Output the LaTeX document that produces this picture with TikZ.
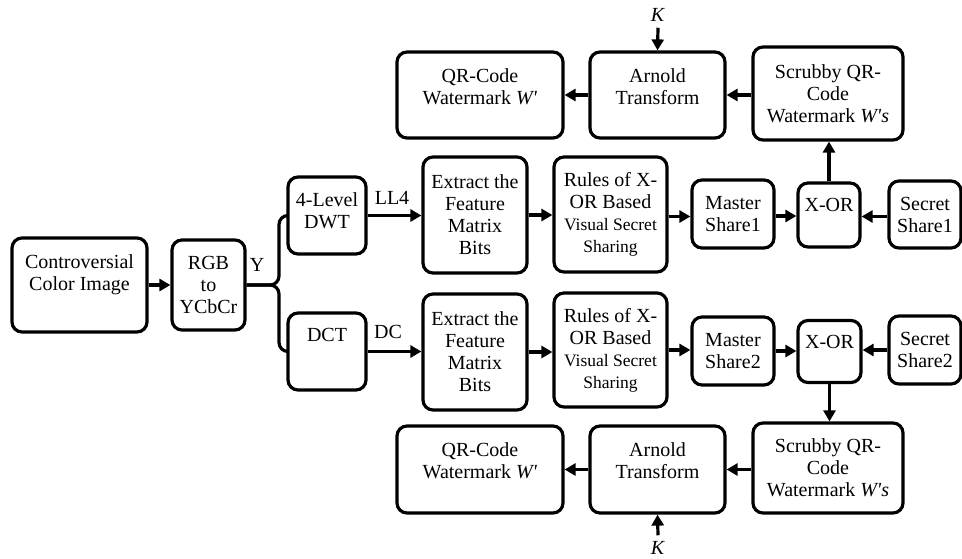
\documentclass[tikz,border=0pt]{standalone}
\usepackage{fontspec}
\setmainfont{Liberation Serif}
\usetikzlibrary{arrows.meta}
\newcommand{\fs}{\fontsize{20pt}{22pt}\selectfont}
\newcommand{\fss}{\fontsize{17.5pt}{19.5pt}\selectfont}
\newcommand{\lift}[1]{\\[#1]\mbox{}}
\newcommand{\pr}{\textquotesingle}
\begin{document}
\begin{tikzpicture}[x=1pt,y=1pt,
  box/.style={draw, line width=3.2pt, rounded corners=10pt, align=center, inner sep=0pt, font=\fs},
  conn/.style={line width=3.2pt},
  arr/.style={line width=3.2pt, -{Triangle[length=11pt,width=12pt]}},
  lbl/.style={inner sep=0pt, font=\fs}]
\useasboundingbox (0,0) rectangle (962,-558);

% left part
\node[box, minimum width=135pt, minimum height=94pt] (ctrl) at (79.5,-285) {Controversial\\Color Image\lift{2pt}};
\node[box, minimum width=73pt, minimum height=90pt] (rgb) at (208.5,-285) {RGB\\to\\YCbCr};
\node[box, minimum width=78pt, minimum height=77pt] (dwt) at (327,-215.5) {4-Level\\DWT\lift{-13pt}};
\node[box, minimum width=78pt, minimum height=77pt] (dct) at (327,-351.5) {DCT\lift{11pt}};
\node[lbl] (ylab) at (257,-265) {Y};
\node[lbl] (ll4) at (392,-198) {LL4};
\node[lbl] (dc) at (388,-332) {DC};

% upper branch
\node[box, minimum width=104pt, minimum height=116pt] (ext1) at (475,-215) {Extract the\\Feature\\Matrix\\Bits};
\node[box, minimum width=113pt, minimum height=115pt] (rules1) at (610.5,-214.5) {Rules of X-\\OR Based\\{\fss Visual Secret}\\{\fss Sharing}};
\node[box, minimum width=82pt, minimum height=68pt] (master1) at (733,-214) {Master\\Share1};
\node[box, minimum width=62pt, minimum height=64pt] (xor1) at (829,-215) {X-OR\lift{-2pt}};
\node[box, minimum width=72pt, minimum height=67pt] (secret1) at (925,-214.5) {Secret\\Share1};
\node[box, minimum width=166pt, minimum height=86pt] (qr1) at (480,-95) {QR-Code\\Watermark \textit{W\pr}\lift{-6pt}};
\node[box, minimum width=135pt, minimum height=86pt] (arnold1) at (657.5,-95) {Arnold\\Transform\lift{-6pt}};
\node[box, minimum width=150pt, minimum height=93pt] (scrub1) at (828,-93.5) {Scrubby QR-\\Code\\Watermark \textit{W\pr s}};
\node[lbl] (k1) at (658,-15) {\textit{K}};

% lower branch
\node[box, minimum width=104pt, minimum height=116pt] (ext2) at (475,-352) {Extract the\\Feature\\Matrix\\Bits};
\node[box, minimum width=113pt, minimum height=114pt] (rules2) at (610.5,-350) {Rules of X-\\OR Based\\{\fss Visual Secret}\\{\fss Sharing}};
\node[box, minimum width=82pt, minimum height=68pt] (master2) at (733,-351) {Master\\Share2};
\node[box, minimum width=63pt, minimum height=62pt] (xor2) at (829.5,-351.5) {X-OR\lift{-2pt}};
\node[box, minimum width=72pt, minimum height=68pt] (secret2) at (925,-350) {Secret\\Share2};
\node[box, minimum width=166pt, minimum height=87pt] (qr2) at (480,-469.5) {QR-Code\\Watermark \textit{W\pr}\lift{-4pt}};
\node[box, minimum width=135pt, minimum height=87pt] (arnold2) at (657.5,-469.5) {Arnold\\Transform\lift{-4pt}};
\node[box, minimum width=150pt, minimum height=90pt] (scrub2) at (828,-468) {Scrubby QR-\\Code\\Watermark \textit{W\pr s}};
\node[lbl] (k2) at (658,-548) {\textit{K}};

% connectors
\draw[arr] (ctrl.east) -- (rgb.west);
\coordinate (br) at (279,-285);
\draw[conn, rounded corners=9pt] (rgb.east) -- (br) |- (dwt.west);
\draw[conn, rounded corners=9pt] (rgb.east) -- (br) |- (dct.west);
\draw[arr] (dwt.east) -- (dwt.east -| ext1.west);
\draw[arr] (dct.east) -- (dct.east -| ext2.west);

\draw[arr] (ext1.east) -- (ext1.east -| rules1.west);
\draw[arr] ([yshift=-2pt]rules1.east) -- ([yshift=-2pt]rules1.east -| master1.west);
\draw[arr] ([yshift=-2pt]master1.east) -- ([yshift=-2pt]master1.east -| xor1.west);
\draw[arr] ([yshift=-2pt]secret1.west) -- ([yshift=-2pt]secret1.west -| xor1.east);
\draw[arr] (xor1.north) -- (xor1.north |- scrub1.south);
\draw[arr] (scrub1.west |- arnold1.east) -- (arnold1.east);
\draw[arr] (arnold1.west) -- (qr1.east);
\draw[arr] ([yshift=-6pt]k1.south) -- (arnold1.north);

\draw[arr] (ext2.east) -- (ext2.east -| rules2.west);
\draw[arr] (rules2.east) -- (rules2.east -| master2.west);
\draw[arr] (master2.east) -- (master2.east -| xor2.west);
\draw[arr] (secret2.west) -- (secret2.west -| xor2.east);
\draw[arr] (xor2.south) -- (xor2.south |- scrub2.north);
\draw[arr] (scrub2.west |- arnold2.east) -- (arnold2.east);
\draw[arr] (arnold2.west) -- (qr2.east);
\draw[arr] ([yshift=6pt]k2.north) -- (arnold2.south);
\end{tikzpicture}
\end{document}
